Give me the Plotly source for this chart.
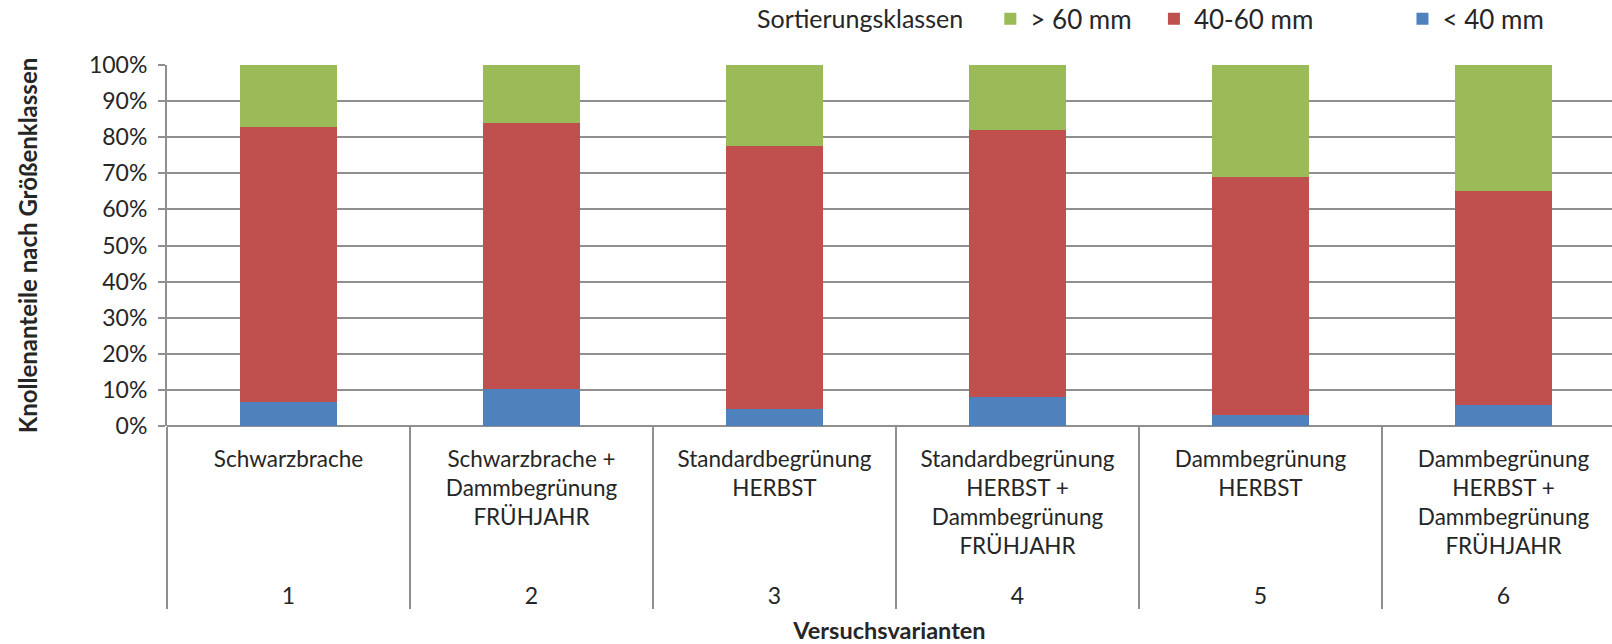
import plotly.graph_objects as go

# ---- data ----
variant_numbers = ["1", "2", "3", "4", "5", "6"]
variant_labels = [
    "Schwarzbrache",
    "Schwarzbrache +<br>Dammbegrünung<br>FRÜHJAHR",
    "Standardbegrünung<br>HERBST",
    "Standardbegrünung<br>HERBST +<br>Dammbegrünung<br>FRÜHJAHR",
    "Dammbegrünung<br>HERBST",
    "Dammbegrünung<br>HERBST +<br>Dammbegrünung<br>FRÜHJAHR",
]
x_pos = [1, 2, 3, 4, 5, 6]
share_lt40 = [6.6, 10.2, 4.6, 8.1, 3.1, 5.7]
share_40_60 = [76.2, 73.6, 72.9, 73.8, 65.9, 59.3]
share_gt60 = [17.2, 16.2, 22.5, 18.1, 31.0, 35.0]
y_ticks = [0, 10, 20, 30, 40, 50, 60, 70, 80, 90, 100]
y_ticktext = ["0%", "10%", "20%", "30%", "40%", "50%", "60%", "70%", "80%", "90%", "100%"]

series_names = ["&lt; 40 mm", "40-60 mm", "&gt; 60 mm"]
series_values = [share_lt40, share_40_60, share_gt60]
series_colors = ["#4F81BD", "#C0504D", "#9BBB59"]
series_legends = ["legend3", "legend2", "legend"]

FONT = "Lato"
TXT = "#262626"
GRID = "#8f8f8f"

X_RANGE = [0.5, 0.5 + 1445 / 243]

fig = go.Figure()
for name, vals, col, lg in zip(series_names, series_values, series_colors, series_legends):
    fig.add_trace(go.Bar(
        x=x_pos, y=vals, name=name, width=0.4, legend=lg,
        marker=dict(color=col, line=dict(width=0)),
        hoverinfo="skip",
    ))
# empty helper trace so the secondary x axis (variant numbers) is drawn
fig.add_trace(go.Scatter(x=x_pos, y=[None] * len(x_pos), xaxis="x2", yaxis="y",
                         mode="markers", showlegend=False, hoverinfo="skip"))

legend_common = dict(
    orientation="h", y=1.128, yanchor="middle", xanchor="left",
    font=dict(size=26, family=FONT, color=TXT),
    bgcolor="rgba(0,0,0,0)", itemclick=False, itemdoubleclick=False,
)

fig.update_layout(
    width=1612, height=644,
    barmode="stack",
    paper_bgcolor="white", plot_bgcolor="white",
    margin=dict(l=167, r=0, t=65, b=218, autoexpand=False),
    font=dict(family=FONT, size=23, color=TXT),
    showlegend=True,
    legend=dict(
        x=0.407,
        title=dict(text="Sortierungsklassen&nbsp;&nbsp;&nbsp;",
                   font=dict(size=25, family=FONT, color=TXT)),
        **legend_common,
    ),
    legend2=dict(x=0.683, **legend_common),
    legend3=dict(x=0.855, **legend_common),
    xaxis=dict(
        range=X_RANGE,
        tickmode="array", tickvals=x_pos, ticktext=variant_labels,
        ticks="", showgrid=False, zeroline=False, showline=False,
        ticklabelstandoff=17,
        tickfont=dict(size=22.5, family=FONT, color=TXT),
        minor=dict(tickmode="array", tickvals=[0.5, 1.5, 2.5, 3.5, 4.5, 5.5, 6.5],
                   ticks="outside", ticklen=182, tickwidth=2, tickcolor=GRID),
        fixedrange=True,
    ),
    xaxis2=dict(
        overlaying="x", anchor="y", side="bottom",
        range=X_RANGE,
        tickmode="array", tickvals=x_pos, ticktext=variant_numbers,
        ticks="", showgrid=False, zeroline=False, showline=False,
        ticklabelstandoff=154,
        tickfont=dict(size=23, family=FONT, color=TXT),
        title=dict(text="<b>Versuchsvarianten</b>", standoff=18,
                   font=dict(size=23.5, family=FONT, color=TXT)),
        fixedrange=True,
    ),
    yaxis=dict(
        range=[0, 100],
        tickmode="array", tickvals=y_ticks, ticktext=y_ticktext,
        ticks="outside", ticklen=7, tickwidth=2, tickcolor=GRID,
        ticklabelstandoff=6,
        showgrid=True, gridcolor=GRID, gridwidth=2,
        showline=True, linecolor=GRID, linewidth=2,
        zeroline=True, zerolinecolor=GRID, zerolinewidth=2,
        tickfont=dict(size=23, family=FONT, color=TXT),
        title=dict(text="<b>Knollenanteile nach Größenklassen</b>", standoff=45,
                   font=dict(size=24, family=FONT, color=TXT)),
        fixedrange=True,
    ),
)

fig.write_html("out.html", config={"displayModeBar": False},
               post_script="document.body.style.margin='0';")
